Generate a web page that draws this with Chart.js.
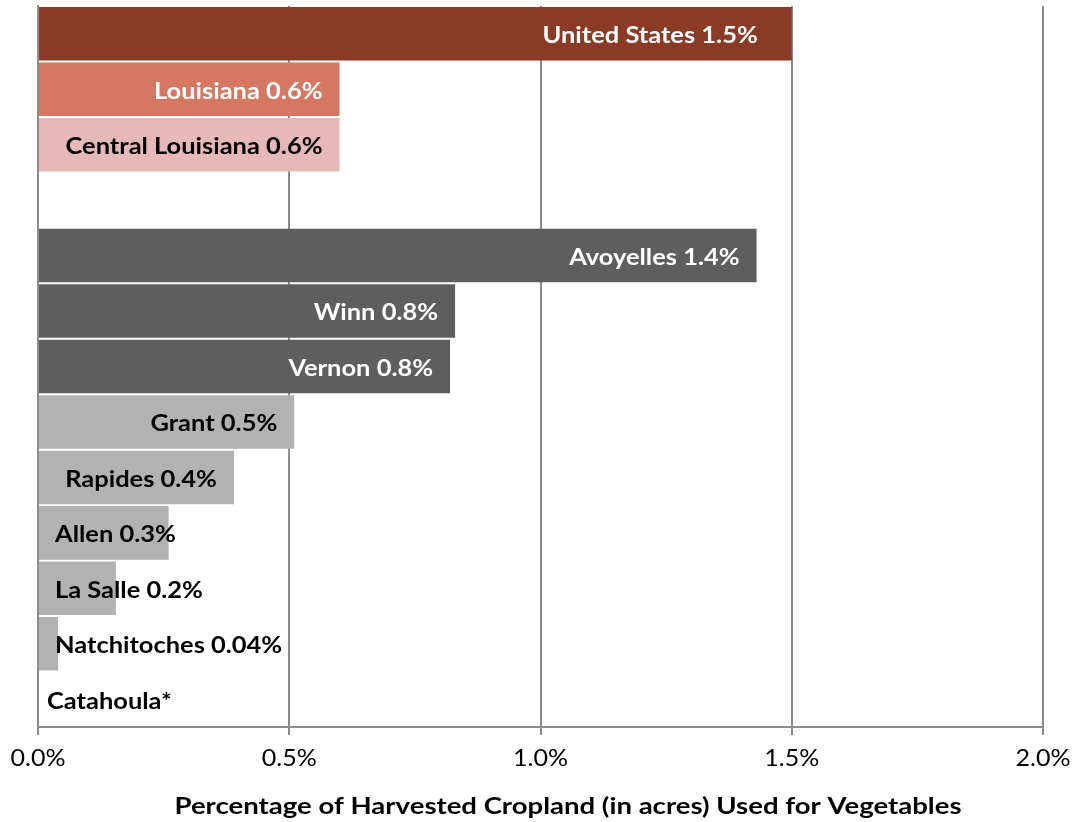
<!DOCTYPE html>
<html>
<head>
<meta charset="utf-8">
<script src="https://cdn.jsdelivr.net/npm/chart.js@4.4.0/dist/chart.umd.min.js"></script>
<style>
html,body{margin:0;padding:0;background:#fff;}
#wrap{width:1073px;height:822px;position:relative;}
</style>
</head>
<body>
<div id="wrap"><canvas id="c"></canvas></div>
<script>
const categories = ["United States","Louisiana","Central Louisiana","","Avoyelles","Winn","Vernon","Grant","Rapides","Allen","La Salle","Natchitoches","Catahoula"];
const values = [1.5, 0.6, 0.6, null, 1.43, 0.83, 0.82, 0.51, 0.39, 0.26, 0.155, 0.04, 0];
const labelTexts = ["United States 1.5%","Louisiana 0.6%","Central Louisiana 0.6%","","Avoyelles 1.4%","Winn 0.8%","Vernon 0.8%","Grant 0.5%","Rapides 0.4%","Allen 0.3%","La Salle 0.2%","Natchitoches 0.04%","Catahoula*"];
const xTicks = [0, 0.5, 1.0, 1.5, 2.0];
const axisTitle = "Percentage of Harvested Cropland (in acres) Used for Vegetables";

// styles
const barColors = ["#8B3A26","#D47862","#E6B8B7","#ffffff","#5E5E5E","#5E5E5E","#5E5E5E","#B2B2B2","#B2B2B2","#B2B2B2","#B2B2B2","#B2B2B2","#B2B2B2"];
const labelColors = ["#ffffff","#ffffff","#000000","#000000","#ffffff","#ffffff","#ffffff","#000000","#000000","#000000","#000000","#000000","#000000"];
const labelEndPad = [34,17,17,17,17,17,17,17,17,17,17,17,17];
const FONT = "Lato";

function drawScaled(ctx, text, x, y, sx) {
  ctx.save();
  ctx.translate(x, y);
  ctx.scale(sx, 1);
  ctx.fillText(text, 0, 0);
  ctx.restore();
}

const labelPlugin = {
  id: 'barLabels',
  afterDatasetsDraw(chart) {
    const ctx = chart.ctx;
    const meta = chart.getDatasetMeta(0);
    const xs = chart.scales.x;
    const x0 = xs.getPixelForValue(0);
    ctx.save();
    ctx.font = "bold 23px " + FONT;
    ctx.textBaseline = "middle";
    ctx.textAlign = "left";
    const sx = 257 / ctx.measureText("Central Louisiana 0.6%").width;
    meta.data.forEach((bar, i) => {
      const t = labelTexts[i];
      if (!t) return;
      const w = ctx.measureText(t).width * sx;
      const end = xs.getPixelForValue(values[i] || 0);
      let x = end - labelEndPad[i] - w;
      const minX = (values[i] === 0) ? x0 + 9 : x0 + 17;
      if (x < minX) x = minX;
      ctx.fillStyle = labelColors[i];
      drawScaled(ctx, t, x, bar.y + 2, sx);
    });

    // x tick labels
    ctx.font = "23px " + FONT;
    ctx.fillStyle = "#000";
    const tsx = 55 / ctx.measureText("0.0%").width;
    const ca = chart.chartArea;
    xTicks.forEach(v => {
      const t = v.toFixed(1) + "%";
      const w = ctx.measureText(t).width * tsx;
      const px = xs.getPixelForValue(v);
      drawScaled(ctx, t, px - w / 2, ca.bottom + 32, tsx);
    });

    // axis title
    ctx.font = "bold 23px " + FONT;
    const tw = ctx.measureText(axisTitle).width;
    const titleSx = 787 / tw;
    drawScaled(ctx, axisTitle, 568 - 787 / 2, ca.bottom + 80, titleSx);
    ctx.restore();
  }
};

new Chart(document.getElementById('c'), {
  type: 'bar',
  data: {
    labels: categories,
    datasets: [{
      data: values,
      backgroundColor: barColors,
      borderWidth: 0,
      barPercentage: 0.965,
      categoryPercentage: 1.0
    }]
  },
  options: {
    indexAxis: 'y',
    responsive: true,
    maintainAspectRatio: false,
    animation: false,
    layout: { padding: { left: 38, right: 30, top: 6, bottom: 0 } },
    plugins: { legend: { display: false }, tooltip: { enabled: false } },
    scales: {
      x: {
        min: 0, max: 2,
        afterBuildTicks(scale) { scale.ticks = xTicks.map(v => ({ value: v })); },
        afterFit(scale) { scale.height = 95; },
        ticks: { display: false },
        grid: { color: "#8C8C8C", lineWidth: 2, tickLength: 8, drawOnChartArea: true },
        border: { color: "#8C8C8C", width: 2 }
      },
      y: {
        afterFit(scale) { scale.width = 0; },
        ticks: { display: false },
        grid: { display: false },
        border: { color: "#8C8C8C", width: 2 }
      }
    }
  },
  plugins: [labelPlugin]
});
</script>
</body>
</html>
